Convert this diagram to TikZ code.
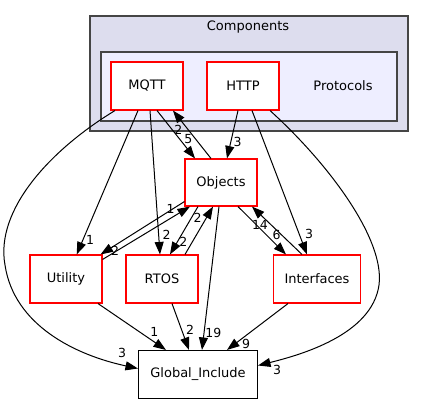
\documentclass[tikz,border=0pt]{standalone}
\usepackage{fontspec}
\setmainfont{DejaVu Sans}
\usetikzlibrary{arrows.meta,calc}
\begin{document}
\begin{tikzpicture}[x=1pt,y=-1pt,
  dirbox/.style={draw=red, fill=white, line width=1.1pt, minimum width=72pt, minimum height=48pt, inner sep=0pt, font=\fontsize{13}{15}\selectfont},
  plainbox/.style={draw=black, fill=white, line width=1.1pt, minimum width=119pt, minimum height=48pt, inner sep=0pt, font=\fontsize{13}{15}\selectfont},
  grp/.style={draw=black!73, line width=1.4pt},
  edge/.style={draw=black, line width=1pt, -{Triangle[length=12.5pt,width=9pt]}},
  lbl/.style={font=\fontsize{12.5}{14}\selectfont, inner sep=0pt}
]
\useasboundingbox (0,0) rectangle (424,404);
% clusters
\draw[grp, fill={rgb,255:red,221;green,221;blue,238}] (90,16) rectangle (408,131);
\node[font=\fontsize{13}{15}\selectfont] (comp) at (248,27) {Components};
\draw[grp, fill={rgb,255:red,238;green,238;blue,255}] (101,52) rectangle (397,121);
\node[font=\fontsize{13}{15}\selectfont] (prot) at (343,86) {Protocols};
% nodes
\node[dirbox] (MQTT) at (147,86) {MQTT};
\node[dirbox] (HTTP) at (243,86) {HTTP};
\node[dirbox, minimum height=47pt] (Objects) at (221,182.5) {Objects};
\node[dirbox] (Utility) at (66,279) {Utility};
\node[dirbox] (RTOS) at (162,279) {RTOS};
\node[dirbox, minimum width=87pt] (Interfaces) at (317,279) {Interfaces};
\node[plainbox] (GI) at (198,374.5) {Global\_Include};
% edges
\draw[edge] ($(MQTT.south)+(-32,0)$) .. controls (50,150) and (-5,210) .. (5,265) .. controls (14,325) and (75,355) .. ($(GI.west)+(0,-6)$);
\draw[edge] ($(MQTT.south)+(-9,0)$) -- ($(Utility.north)+(10.7,0)$);
\draw[edge] ($(MQTT.south)+(3,0)$) -- ($(RTOS.north)+(-2,0)$);
\draw[edge] ($(MQTT.south)+(10,0)$) -- ($(Objects.north)+(-26,0)$);
\draw[edge] ($(Objects.north)+(-10,0)$) -- ($(MQTT.south)+(26,0)$);
\draw[edge] ($(HTTP.south)+(-5,0)$) -- ($(Objects.north)+(6,0)$);
\draw[edge] ($(HTTP.south)+(9,0)$) -- ($(Interfaces.north)+(-10,0)$);
\draw[edge] ($(HTTP.south)+(27,0)$) .. controls (330,165) and (385,240) .. (379,285) .. controls (372,335) and (300,355) .. ($(GI.east)+(0,-9)$);
\draw[edge] ($(Objects.south west)+(0,-5)$) -- ($(Utility.north east)+(-2,0)$);
\draw[edge] ($(Utility.north east)+(0,5)$) -- ($(Objects.south)+(-31,0)$);
\draw[edge] ($(Objects.south)+(-23,0)$) -- ($(RTOS.north)+(8,0)$);
\draw[edge] ($(RTOS.north)+(23,0)$) -- ($(Objects.south)+(-8,0)$);
\draw[edge] ($(Objects.south)+(-2,0)$) -- ($(GI.north)+(4,0)$);
\draw[edge] ($(Objects.south)+(17,0)$) -- ($(Interfaces.north)+(-31,0)$);
\draw[edge] ($(Interfaces.north)+(-15,0)$) -- ($(Objects.south)+(31,0)$);
\draw[edge] ($(Utility.south)+(32,0)$) -- ($(GI.north)+(-32,0)$);
\draw[edge] ($(RTOS.south)+(10,0)$) -- ($(GI.north)+(-9,0)$);
\draw[edge] ($(Interfaces.south)+(-29,0)$) -- ($(GI.north)+(29,0)$);
% edge labels
\node[lbl] (l1) at (122,353) {3};
\node[lbl] (l2) at (90,240) {1};
\node[lbl] (l3) at (166.7,234.5) {2};
\node[lbl] (l4) at (188.3,139.5) {5};
\node[lbl] (l5) at (178.3,129.5) {2};
\node[lbl] (l6) at (237.5,141.5) {3};
\node[lbl] (l7) at (309,233.5) {3};
\node[lbl] (l8) at (277,369.5) {3};
\node[lbl] (l9) at (170.7,209) {1};
\node[lbl] (l10) at (115,250.7) {2};
\node[lbl] (l11) at (197.7,217.7) {2};
\node[lbl] (l12) at (183.3,241.5) {2};
\node[lbl] (l13) at (213.3,332.7) {19};
\node[lbl] (l14) at (260,224.5) {14};
\node[lbl] (l15) at (276.7,235) {6};
\node[lbl] (l16) at (154.3,331.7) {1};
\node[lbl] (l17) at (190,330) {2};
\node[lbl] (l18) at (246,344) {9};
\end{tikzpicture}
\end{document}
